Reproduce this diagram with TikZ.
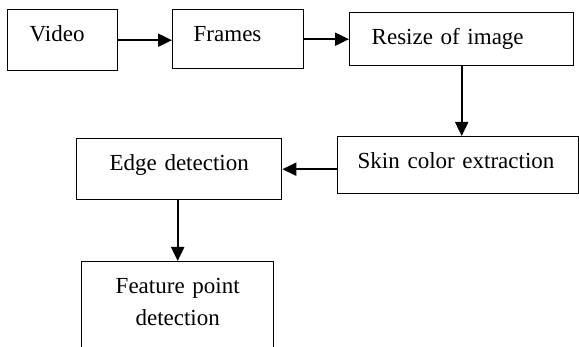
\documentclass[tikz,border=0pt]{standalone}
\usepackage{fontspec}
\setmainfont{Liberation Serif}
\usetikzlibrary{arrows.meta}
\begin{document}
\begin{tikzpicture}
[x=1pt,y=-1pt,
  stagebox/.style={shape=rectangle,draw,line width=1.4pt,anchor=north west,
    inner ysep=0pt,text height=32pt,font=\fontsize{23}{32}\selectfont},%
  flowarrow/.style={-{Triangle[length=14pt,width=13pt]},line width=2pt}]
\clip (0,0) rectangle (579,347);
%% boxes
\foreach \nodename/\x/\y/\w/\pad/\dep/\al/\txt in {
  video/7/9/110/22/29/left/Video,
  frames/172/9/131/21/27/left/Frames,
  resize/349/12/224/22/21/left/Resize of image,
  skin/337/136/241/20/25/left/Skin color extraction,
  edgedet/76/138/205/0/29/center/Edge detection,
  featpt/81/261/192/0/120/center/Feature point\\detection} {
  \pgfmathsetmacro\tw{\w-2*\pad}
  \node (\nodename) at (\x,\y) [stagebox,text width=\tw pt,inner xsep=\pad pt,
    text depth=\dep pt,align=\al] {\txt};
}
%% arrows
\path
\foreach \startnode/\endnode in {video.east/video.east -| frames.west,
  frames.east/frames.east -| resize.west,
  resize.south/resize.south |- skin.north,
  skin.west |- edgedet.east/edgedet.east,
  edgedet.south -| featpt.north/featpt.north} {
  (\startnode) edge[flowarrow] (\endnode)
};
\end{tikzpicture}
\end{document}
